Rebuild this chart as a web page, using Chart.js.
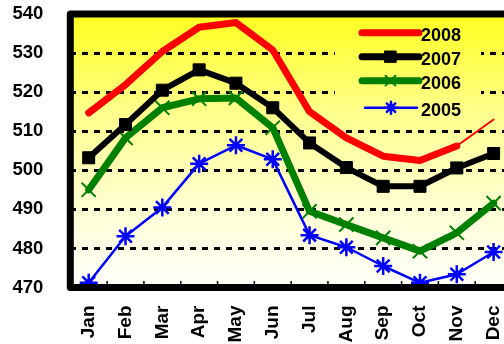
<html>
<head>
<style>
body { margin: 0; overflow: hidden; background: #fff; }
</style>
</head>
<body>
<canvas id="chart" width="524" height="344"></canvas>

<script src="https://cdn.jsdelivr.net/npm/chart.js@4.4.0/dist/chart.umd.min.js"></script>
<script>
// values
var months = ['Jan','Feb','Mar','Apr','May','Jun','Jul','Aug','Sep','Oct','Nov','Dec'];
var years = ['2008','2007','2006','2005'];
var v2008 = [514.7, 521.9, 530.4, 536.6, 537.8, 530.8, 515.0, 508.3, 503.6, 502.5, 506.2, 513.0];
var v2007 = [503.2, 511.7, 520.5, 525.7, 522.3, 516.0, 507.0, 500.7, 495.9, 495.9, 500.6, 504.3];
var v2006 = [495.0, 508.3, 516.0, 518.3, 518.5, 510.9, 489.5, 486.1, 482.7, 479.3, 484.0, 491.6];
var v2005 = [471.2, 483.1, 490.5, 501.7, 506.4, 502.8, 483.4, 480.3, 475.5, 471.2, 473.4, 479.1];
var yTicks = [470, 480, 490, 500, 510, 520, 530, 540];

var FAMILY = '"Liberation Sans", Arial, sans-serif';
var FONT = 'bold 18px ' + FAMILY;

function makeGradient(ctx, area) {
   var g = ctx.createLinearGradient(0, area.top, 0, area.bottom);
   g.addColorStop(0, '#ffff1e');
   g.addColorStop(0.35, '#ffff8a');
   g.addColorStop(0.7, '#ffffd2');
   g.addColorStop(1, '#fffffb');
   return g;
}

// yellow background + frame
var backdrop = {
   id: 'backdrop',
   beforeDraw: function (chart) {
      var ctx = chart.ctx, a = chart.chartArea;
      ctx.save();
      ctx.fillStyle = makeGradient(ctx, a);
      ctx.fillRect(a.left, a.top, a.right - a.left, a.bottom - a.top);
      ctx.restore();
   },
   afterDatasetsDraw: function (chart) {
      var ctx = chart.ctx, a = chart.chartArea, x = chart.scales.x;
      ctx.save();
      // small inward ticks between months
      ctx.strokeStyle = '#000';
      ctx.lineWidth = 1.5;
      for (var i = 0; i < months.length - 1; i++) {
         var px = (x.getPixelForValue(i) + x.getPixelForValue(i + 1)) / 2;
         ctx.beginPath();
         ctx.moveTo(px, a.bottom);
         ctx.lineTo(px, a.bottom - 6.5);
         ctx.stroke();
      }
      ctx.lineWidth = 7;
      ctx.lineJoin = 'round';
      ctx.strokeRect(a.left, a.top, a.right - a.left, a.bottom - a.top);
      ctx.restore();
   }
};

// legend box inside the plot
var boxLegend = {
   id: 'boxLegend',
   afterDatasetsDraw: function (chart) {
      var ctx = chart.ctx, a = chart.chartArea;
      ctx.save();
      ctx.fillStyle = makeGradient(ctx, a);
      ctx.fillRect(335, 19, 146, 106);
      var rows = [32.7, 56.7, 80.7, 107.7];
      chart.data.datasets.forEach(function (ds, i) {
         var y = rows[i];
         var x0 = ds.legendFrom, x1 = ds.legendTo;
         ctx.strokeStyle = ds.borderColor;
         ctx.lineWidth = ds.legendWidth;
         ctx.lineCap = 'round';
         ctx.beginPath();
         ctx.moveTo(x0, y);
         ctx.lineTo(x1, y);
         ctx.stroke();
         if (ds.pointRadius > 0) {
            ctx.fillStyle = ds.pointBackgroundColor;
            ctx.strokeStyle = ds.pointBorderColor;
            ctx.lineWidth = ds.pointBorderWidth;
            Chart.helpers.drawPoint(ctx, {
               pointStyle: ds.pointStyle,
               radius: ds.legendRadius,
               borderWidth: ds.pointBorderWidth,
               rotation: 0
            }, (x0 + x1) / 2, y);
         }
         ctx.fillStyle = '#000';
         ctx.font = FONT;
         ctx.textBaseline = 'middle';
         ctx.textAlign = 'left';
         ctx.fillText(years[i], 421, y + 3);
      });
      ctx.restore();
   }
};

var context = document.getElementById('chart').getContext('2d');
var myChart = new Chart(context, {
   type: 'line',
   data: {
      labels: months,
      datasets: [
         {
            label: years[0], data: v2008,
            borderColor: '#ff0000', borderWidth: 7,
            pointRadius: 0,
            borderCapStyle: 'round', borderJoinStyle: 'round',
            segment: { borderWidth: function (c) { return c.p0DataIndex === 10 ? 2 : 7; } },
            legendFrom: 362, legendTo: 419, legendWidth: 7
         },
         {
            label: years[1], data: v2007,
            borderColor: '#000', borderWidth: 6,
            pointStyle: 'rect', pointRadius: 8.5, pointBorderWidth: 1,
            pointBackgroundColor: '#000', pointBorderColor: '#000',
            borderCapStyle: 'round', borderJoinStyle: 'round',
            legendFrom: 362, legendTo: 419, legendWidth: 7, legendRadius: 8
         },
         {
            label: years[2], data: v2006,
            borderColor: '#008000', borderWidth: 7,
            pointStyle: 'crossRot', pointRadius: 10, pointBorderWidth: 2,
            pointBackgroundColor: '#008000', pointBorderColor: '#008000',
            borderCapStyle: 'round', borderJoinStyle: 'round',
            legendFrom: 362, legendTo: 419, legendWidth: 7, legendRadius: 7
         },
         {
            label: years[3], data: v2005,
            borderColor: '#0000ff', borderWidth: 2.5,
            pointStyle: 'star', pointRadius: 9, pointBorderWidth: 2.5,
            pointBackgroundColor: '#0000ff', pointBorderColor: '#0000ff',
            borderJoinStyle: 'round',
            legendFrom: 365, legendTo: 417, legendWidth: 2.5, legendRadius: 6
         }
      ]
   },
   options: {
      responsive: false,
      animation: false,
      layout: { padding: { top: 14, right: 9.7, left: 0, bottom: 0 } },
      plugins: { legend: { display: false }, tooltip: { enabled: false } },
      elements: { line: { tension: 0 } },
      scales: {
         x: {
            offset: true,
            grid: { display: true, offset: true, drawOnChartArea: false, drawTicks: true, tickLength: 18, tickColor: 'rgba(0,0,0,0)' },
            border: { display: false },
            ticks: {
               color: '#000', font: { family: FAMILY, size: 19, weight: 'bold' },
               maxRotation: 90, minRotation: 90, padding: 0, autoSkip: false
            },
            afterFit: function (s) { s.height = 56.5; }
         },
         y: {
            min: 470, max: 540,
            afterBuildTicks: function (s) { s.ticks = yTicks.map(function (v) { return { value: v }; }); },
            grid: {
               drawTicks: true, tickLength: 27, tickColor: 'rgba(0,0,0,0)', lineWidth: 3,
               color: function (c) {
                  var v = c.tick && c.tick.value;
                  return (v === 470 || v === 540) ? 'rgba(0,0,0,0)' : '#000';
               }
            },
            border: { display: false, dash: [6, 6] },
            ticks: {
               color: '#000', font: { family: FAMILY, size: 18.5, weight: 'bold' },
               padding: 0
            },
            afterFit: function (s) { s.width = 70.3; }
         }
      }
   },
   plugins: [backdrop, boxLegend]
});
</script>
</body>
</html>
